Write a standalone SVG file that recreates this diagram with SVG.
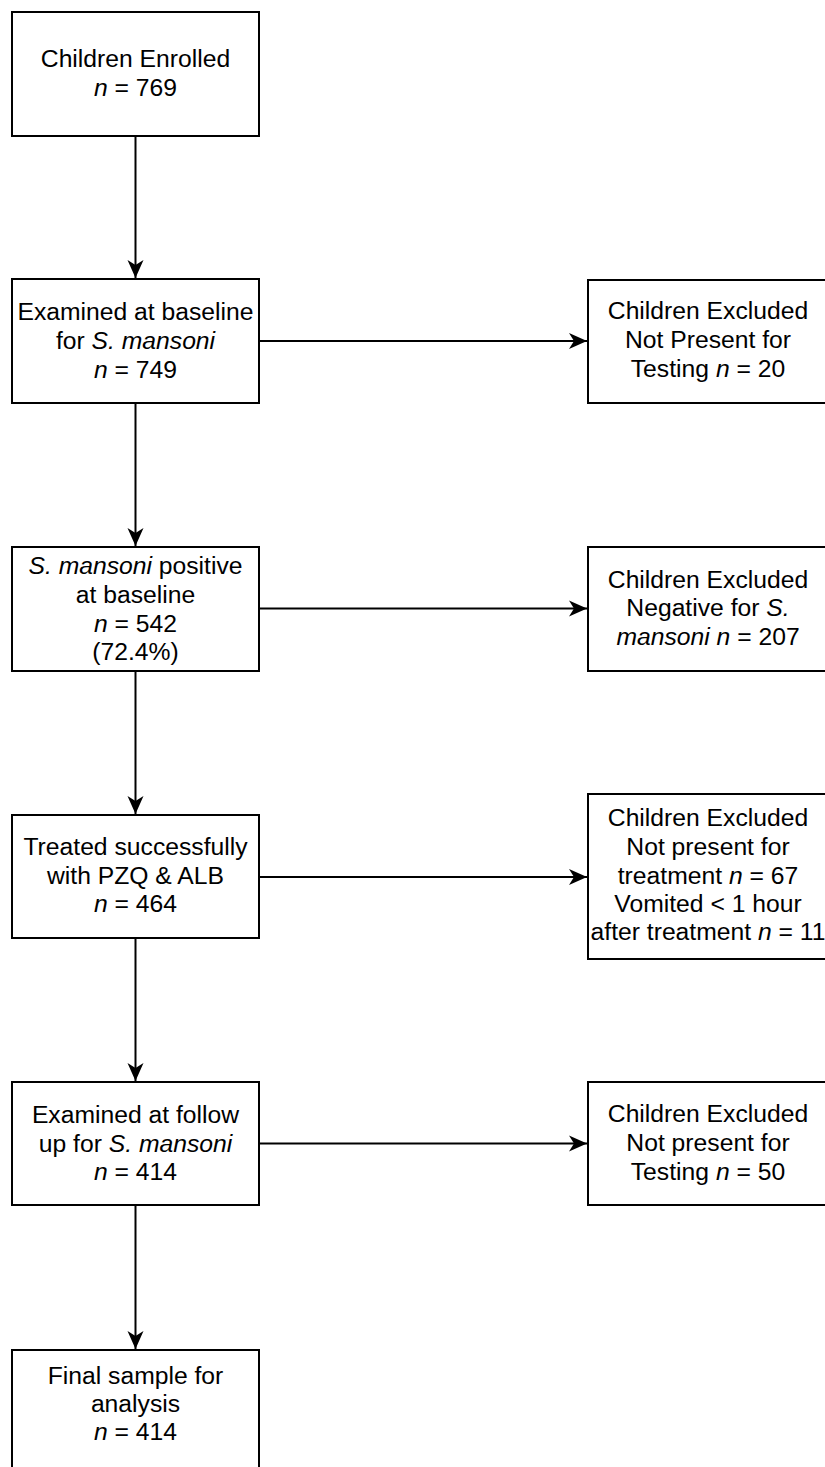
<svg xmlns="http://www.w3.org/2000/svg" width="825" height="1467" viewBox="0 0 825 1467">
<style>
.box{fill:#fff;stroke:#000;stroke-width:2}
.t{font-family:"Liberation Sans",Arial,Helvetica,sans-serif;font-size:24.7px;fill:#000;text-anchor:middle}
.edge{fill:none;stroke:#000;stroke-width:2}
</style>
<defs>
<marker id="ah" markerUnits="userSpaceOnUse" markerWidth="20" markerHeight="18" viewBox="0 0 20 18" refX="18" refY="9" orient="auto">
<path d="M18,9 L0,1 L5,9 L0,17 Z" fill="#000"/>
</marker>
</defs>
<rect width="825" height="1467" fill="#fff"/>
<g id="connectors">
<path class="edge" d="M135.5,136 V278" marker-end="url(#ah)"/>
<path class="edge" d="M135.5,403 V546" marker-end="url(#ah)"/>
<path class="edge" d="M135.5,671 V814" marker-end="url(#ah)"/>
<path class="edge" d="M135.5,938 V1081" marker-end="url(#ah)"/>
<path class="edge" d="M135.5,1205 V1349" marker-end="url(#ah)"/>
<path class="edge" d="M259,341 H587" marker-end="url(#ah)"/>
<path class="edge" d="M259,608.5 H587" marker-end="url(#ah)"/>
<path class="edge" d="M259,877 H587" marker-end="url(#ah)"/>
<path class="edge" d="M259,1143.5 H587" marker-end="url(#ah)"/>
</g>
<g id="enrolled">
<rect class="box" x="12" y="12" width="247" height="124"/>
<text class="t" x="135.5" y="67">Children Enrolled</text>
<text class="t" x="135.5" y="96"><tspan font-style="italic">n</tspan> = 769</text>
</g>
<g id="baseline">
<rect class="box" x="12" y="279" width="247" height="124"/>
<text class="t" x="135.5" y="320">Examined at baseline</text>
<text class="t" x="135.5" y="349">for <tspan font-style="italic">S. mansoni</tspan></text>
<text class="t" x="135.5" y="378"><tspan font-style="italic">n</tspan> = 749</text>
</g>
<g id="excl1">
<rect class="box" x="588" y="280" width="240" height="123"/>
<text class="t" x="708" y="319">Children Excluded</text>
<text class="t" x="708" y="348">Not Present for</text>
<text class="t" x="708" y="377">Testing <tspan font-style="italic">n</tspan> = 20</text>
</g>
<g id="positive">
<rect class="box" x="12" y="547" width="247" height="124"/>
<text class="t" x="135.5" y="574"><tspan font-style="italic">S. mansoni</tspan> positive</text>
<text class="t" x="135.5" y="603">at baseline</text>
<text class="t" x="135.5" y="632"><tspan font-style="italic">n</tspan> = 542</text>
<text class="t" x="135.5" y="660">(72.4%)</text>
</g>
<g id="excl2">
<rect class="box" x="588" y="547" width="240" height="124"/>
<text class="t" x="708" y="588">Children Excluded</text>
<text class="t" x="708" y="616">Negative for <tspan font-style="italic">S.</tspan></text>
<text class="t" x="708" y="645"><tspan font-style="italic">mansoni n</tspan> = 207</text>
</g>
<g id="treated">
<rect class="box" x="12" y="815" width="247" height="123"/>
<text class="t" x="135.5" y="855">Treated successfully</text>
<text class="t" x="135.5" y="884">with PZQ &amp; ALB</text>
<text class="t" x="135.5" y="912"><tspan font-style="italic">n</tspan> = 464</text>
</g>
<g id="excl3">
<rect class="box" x="588" y="794" width="240" height="165"/>
<text class="t" x="708" y="826">Children Excluded</text>
<text class="t" x="708" y="855">Not present for</text>
<text class="t" x="708" y="884">treatment <tspan font-style="italic">n</tspan> = 67</text>
<text class="t" x="708" y="912">Vomited &lt; 1 hour</text>
<text class="t" x="708" y="940">after treatment <tspan font-style="italic">n</tspan> = 11</text>
</g>
<g id="followup">
<rect class="box" x="12" y="1082" width="247" height="123"/>
<text class="t" x="135.5" y="1123">Examined at follow</text>
<text class="t" x="135.5" y="1152">up for <tspan font-style="italic">S. mansoni</tspan></text>
<text class="t" x="135.5" y="1180"><tspan font-style="italic">n</tspan> = 414</text>
</g>
<g id="excl4">
<rect class="box" x="588" y="1082" width="240" height="123"/>
<text class="t" x="708" y="1122">Children Excluded</text>
<text class="t" x="708" y="1151">Not present for</text>
<text class="t" x="708" y="1180">Testing <tspan font-style="italic">n</tspan> = 50</text>
</g>
<g id="final">
<rect class="box" x="12" y="1350" width="247" height="124"/>
<text class="t" x="135.5" y="1384">Final sample for</text>
<text class="t" x="135.5" y="1412">analysis</text>
<text class="t" x="135.5" y="1440"><tspan font-style="italic">n</tspan> = 414</text>
</g>
</svg>
